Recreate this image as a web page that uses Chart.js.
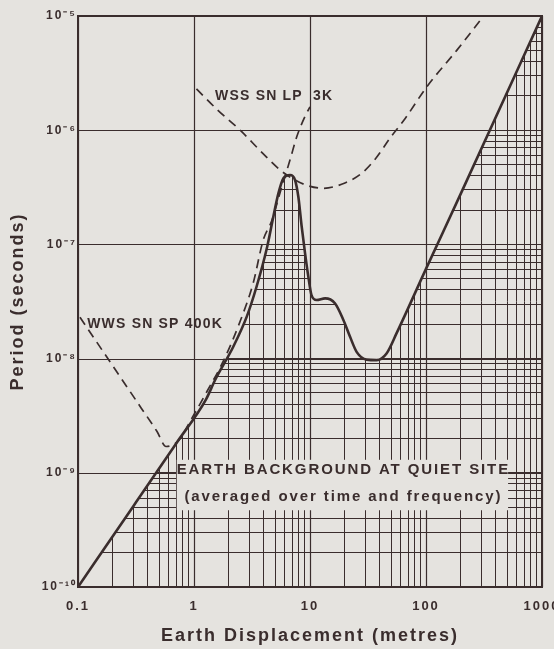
<!DOCTYPE html>
<html>
<head>
<meta charset="utf-8">
<script src="https://cdn.jsdelivr.net/npm/chart.js@4/dist/chart.umd.min.js"></script>
<style>
  html, body { margin: 0; padding: 0; background: #e5e3df; }
  canvas { display: block; }
</style>
</head>
<body>
<canvas id="noiseChart" width="554" height="649"></canvas>
<script>
const paper = '#e5e3df';
const ink = '#3a2d2d';

// axis decades and their labels
const xDecades = [0.1, 1, 10, 100, 1000];
const xTickLabels = ['0.1', '1', '10', '100', '1000'];
const yDecades = [1e-10, 1e-9, 1e-8, 1e-7, 1e-6, 1e-5];
const yTickLabels = ['10⁻¹⁰', '10⁻⁹', '10⁻⁸', '10⁻⁷', '10⁻⁶', '10⁻⁵'];
const minorSteps = [2, 3, 4, 5, 6, 7, 8, 9];

// earth background at quiet site (solid)
const bgX = [0.1, 0.3, 0.7, 1.27, 1.52, 2.18, 2.85, 3.47, 4.24, 4.83, 5.34, 5.9, 6.73, 7.43, 7.94, 8.48, 9.06, 9.68, 10.3, 11.4, 13.5, 16.4, 19.4, 22.1, 25.3, 30.8, 37.6, 45.7, 55.8, 100, 200, 1000];
const bgY = [1e-10, 5.1e-10, 1.8e-9, 4.4e-9, 6.5e-9, 1.27e-8, 2.33e-8, 4.3e-8, 9.2e-8, 1.75e-7, 2.8e-7, 3.8e-7, 4.05e-7, 3.66e-7, 2.6e-7, 1.43e-7, 8.4e-8, 5.2e-8, 3.6e-8, 3.26e-8, 3.37e-8, 3.05e-8, 2.18e-8, 1.56e-8, 1.14e-8, 9.8e-9, 9.7e-9, 1.11e-8, 1.67e-8, 6.1e-8, 2.8e-7, 1e-5];

// WWSSN SP 400K (dashed)
const spX = [0.104, 0.2, 0.35, 0.48, 0.574, 0.65, 0.743, 0.94, 1.3, 1.78, 2.49, 3.24, 3.96, 4.67, 5.5, 6.73, 7.7, 9.06, 10];
const spY = [2.3e-8, 8.6e-9, 3.7e-9, 2.3e-9, 1.7e-9, 1.75e-9, 1.94e-9, 2.9e-9, 5.2e-9, 9.4e-9, 2.1e-8, 4.6e-8, 1.1e-7, 1.6e-7, 2.8e-7, 5.5e-7, 8.8e-7, 1.32e-6, 1.6e-6];

// WSSSN LP 3K (dashed)
const lpX = [1.05, 1.6, 2.5, 3.9, 5.5, 6.7, 9.3, 13, 20, 28.1, 37.1, 49, 65.9, 101, 184, 314];
const lpY = [2.3e-6, 1.5e-6, 1e-6, 6.3e-7, 4.5e-7, 3.9e-7, 3.3e-7, 3.1e-7, 3.45e-7, 4.22e-7, 5.7e-7, 8.55e-7, 1.26e-6, 2.38e-6, 5.0e-6, 1e-5];

// text labels [text, x, y]
const curveLabels = [
  ['WSS SN LP  3K', 1.52, 2.0e-6],
  ['WWS SN SP 400K', 0.12, 2.0e-8]
];
const boxLines = [
  ['EARTH BACKGROUND AT QUIET SITE', 19.4, 1.06e-9],
  ['(averaged over time and frequency)', 19.4, 6.1e-10]
];
const boxCorners = [0.71, 510, 1.3e-9, 4.7e-10];

const xy = (xs, ys) => xs.map((v, i) => ({ x: v, y: ys[i] }));

function logTicks(decades) {
  const out = [];
  decades.forEach((d, i) => {
    out.push({ value: d });
    if (i < decades.length - 1) minorSteps.forEach(m => out.push({ value: d * m }));
  });
  return out;
}

function decadeLabel(decades, labels, v) {
  const i = decades.findIndex(d => Math.abs(Math.log10(d) - Math.log10(v)) < 1e-6);
  return i >= 0 ? labels[i] : '';
}

const annotations = {
  id: 'annotations',
  beforeDraw(chart) {
    chart.ctx.letterSpacing = '2px';
  },
  beforeDatasetsDraw(chart) {
    const { ctx, chartArea: a, scales: { x, y } } = chart;
    ctx.save();
    ctx.strokeStyle = ink;
    ctx.lineWidth = 1.2;
    xDecades.forEach(v => {
      const px = Math.round(x.getPixelForValue(v)) + 0.5;
      ctx.beginPath(); ctx.moveTo(px, a.top); ctx.lineTo(px, a.bottom); ctx.stroke();
    });
    yDecades.forEach(v => {
      const py = Math.round(y.getPixelForValue(v)) + 0.5;
      ctx.beginPath(); ctx.moveTo(a.left, py); ctx.lineTo(a.right, py); ctx.stroke();
    });
    ctx.lineWidth = 2;
    ctx.strokeRect(a.left, a.top, a.right - a.left, a.bottom - a.top);

    // knock-out box for the caption
    const bx0 = x.getPixelForValue(boxCorners[0]);
    const bx1 = x.getPixelForValue(boxCorners[1]);
    const by0 = y.getPixelForValue(boxCorners[2]);
    const by1 = y.getPixelForValue(boxCorners[3]);
    ctx.fillStyle = paper;
    ctx.fillRect(bx0, by0, bx1 - bx0, by1 - by0);
    ctx.restore();
  },
  afterDatasetsDraw(chart) {
    const { ctx, scales: { x, y } } = chart;
    ctx.save();
    ctx.fillStyle = ink;
    ctx.textBaseline = 'middle';
    ctx.font = 'bold 14px "Liberation Sans", Arial, sans-serif';
    ctx.letterSpacing = '1.2px';
    ctx.textAlign = 'left';
    curveLabels.forEach(([t, vx, vy]) => {
      ctx.fillText(t, x.getPixelForValue(vx), y.getPixelForValue(vy));
    });
    ctx.font = 'bold 15px "Liberation Sans", Arial, sans-serif';
    ctx.letterSpacing = '1.9px';
    ctx.textAlign = 'center';
    boxLines.forEach(([t, vx, vy]) => {
      ctx.fillText(t, x.getPixelForValue(vx), y.getPixelForValue(vy));
    });
    ctx.restore();
  }
};

const ctx = document.getElementById('noiseChart').getContext('2d');

new Chart(ctx, {
  type: 'line',
  data: {
    datasets: [{
      label: 'Earth background at quiet site',
      data: xy(bgX, bgY),
      borderColor: ink,
      borderWidth: 2.6,
      backgroundColor: paper,
      fill: 'end',
      pointRadius: 0,
      cubicInterpolationMode: 'monotone',
      order: 1
    }, {
      label: 'WWSSN SP 400K',
      data: xy(spX, spY),
      borderColor: ink,
      borderWidth: 1.7,
      borderDash: [9, 6],
      fill: false,
      pointRadius: 0,
      cubicInterpolationMode: 'monotone',
      order: 0
    }, {
      label: 'WSSSN LP 3K',
      data: xy(lpX, lpY),
      borderColor: ink,
      borderWidth: 1.7,
      borderDash: [9, 6],
      fill: false,
      pointRadius: 0,
      cubicInterpolationMode: 'monotone',
      order: 0
    }]
  },
  options: {
    responsive: false,
    animation: false,
    devicePixelRatio: 1,
    layout: { padding: { top: 16, right: 12, left: 0, bottom: 0 } },
    plugins: {
      legend: { display: false },
      tooltip: { enabled: false },
      filler: { drawTime: 'beforeDatasetsDraw' }
    },
    scales: {
      x: {
        type: 'logarithmic',
        min: 0.1,
        max: 1000,
        afterBuildTicks: s => { s.ticks = logTicks(xDecades); },
        afterFit: s => { s.height = 62; s.paddingLeft = 0; s.paddingRight = 0; },
        ticks: {
          autoSkip: false,
          maxRotation: 0,
          padding: 12,
          color: ink,
          font: { family: '"Liberation Sans", Arial, sans-serif', size: 13, weight: 'bold' },
          callback: v => decadeLabel(xDecades, xTickLabels, v)
        },
        grid: { color: ink, lineWidth: 1, drawTicks: false },
        border: { display: false },
        title: {
          display: true,
          text: 'Earth Displacement (metres)',
          color: ink,
          font: { family: '"Liberation Sans", Arial, sans-serif', size: 18, weight: 'bold' },
          padding: { top: 0, bottom: 2 }
        }
      },
      y: {
        type: 'logarithmic',
        min: 1e-10,
        max: 1e-5,
        afterBuildTicks: s => { s.ticks = logTicks(yDecades); },
        afterFit: s => { s.width = 78; s.paddingTop = 0; s.paddingBottom = 0; },
        ticks: {
          autoSkip: false,
          padding: 1,
          color: ink,
          font: { family: '"Liberation Sans", Arial, sans-serif', size: 12, weight: 'bold' },
          callback: v => decadeLabel(yDecades, yTickLabels, v)
        },
        grid: { color: ink, lineWidth: 1, drawTicks: false },
        border: { display: false },
        title: {
          display: true,
          text: 'Period (seconds)',
          color: ink,
          font: { family: '"Liberation Sans", Arial, sans-serif', size: 18, weight: 'bold' },
          padding: { top: 7, bottom: 0 }
        }
      }
    }
  },
  plugins: [annotations]
});
</script>
</body>
</html>
